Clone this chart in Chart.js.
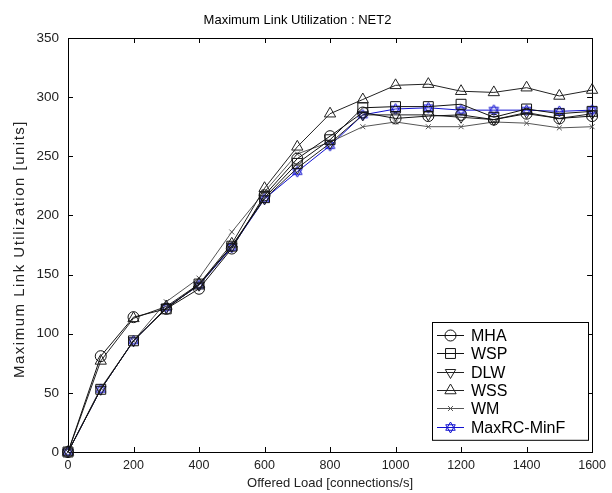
<!DOCTYPE html>
<html>
<head>
<meta charset="utf-8">
<script src="https://cdn.jsdelivr.net/npm/chart.js@4/dist/chart.umd.min.js"></script>
<style>
  html, body { margin: 0; padding: 0; background: #fff; }
  #wrap { width: 612px; height: 493px; }
</style>
</head>
<body>
<div id="wrap"><canvas id="chart-net2"></canvas></div>
<script>
const loads = [0, 100, 200, 300, 400, 500, 600, 700, 800, 900, 1000, 1100, 1200, 1300, 1400, 1500, 1600];
const mha   = [0, 81, 114, 121, 138, 172, 217, 248, 267, 287, 282, 284, 285, 281, 286, 282, 284];
const wsp   = [0, 53, 94, 121, 142, 174, 215, 244, 264, 291, 292, 292, 294, 283, 290, 286, 288];
const dlw   = [0, 53, 94, 122, 141, 174, 214, 240, 261, 285, 285, 285, 283, 281, 287, 282, 286];
const wss   = [0, 77, 113, 123, 142, 176, 223, 258, 286, 298, 310, 311, 305, 304, 308, 301, 306];
const wm    = [0, 54, 94, 127, 147, 186, 220, 252, 262, 275, 279, 275, 275, 279, 278, 274, 275];
const maxrc = [0, 53, 94, 122, 141, 173, 214, 237, 259, 285, 290, 291, 289, 289, 289, 288, 289];

const yTitle = 'Maximum Link Utilization [units]';

const FONT = '"Liberation Sans", Arial, sans-serif';
const BLUE = '#1010d0';

function hexagram(color) {
  const cv = document.createElement('canvas');
  cv.width = 13; cv.height = 13;
  const g = cv.getContext('2d');
  g.strokeStyle = color;
  g.lineWidth = 1;
  const cx = 6.5, cy = 6.5, r = 5.5;
  [-Math.PI / 2, Math.PI / 2].forEach(rot => {
    g.beginPath();
    for (let k = 0; k < 3; k++) {
      const a = rot + k * 2 * Math.PI / 3;
      const px = cx + r * Math.cos(a), py = cy + r * Math.sin(a);
      if (k) g.lineTo(px, py); else g.moveTo(px, py);
    }
    g.closePath();
    g.stroke();
  });
  return cv;
}

function series(label, values, style, color, radius, rotation) {
  return {
    label,
    data: values.map((v, i) => ({ x: loads[i], y: v })),
    borderColor: color,
    backgroundColor: 'rgba(0,0,0,0)',
    pointBorderColor: color,
    pointBackgroundColor: 'rgba(0,0,0,0)',
    pointStyle: style,
    pointRadius: radius,
    pointRotation: rotation || 0,
    pointBorderWidth: 1,
    borderWidth: 1,
    tension: 0,
    clip: false,
  };
}

const datasets = [
  series('MHA', mha, 'circle', '#111', 5.5),
  series('WSP', wsp, 'rect', '#111', 7),
  series('DLW', dlw, 'triangle', '#222', 6, 180),
  series('WSS', wss, 'triangle', '#222', 6.5),
  series('WM', wm, 'crossRot', '#555', 3.5),
  series('MaxRC-MinF', maxrc, hexagram(BLUE), BLUE, 6),
];

// MATLAB-like box with inward ticks, plus the spaced-out y title
const frame = {
  id: 'frame',
  beforeDatasetsDraw(chart) {
    const { ctx, chartArea: a, scales: { x, y } } = chart;
    ctx.save();
    ctx.strokeStyle = '#000';
    ctx.lineWidth = 1;
    ctx.strokeRect(Math.round(a.left) + 0.5, Math.round(a.top) + 0.5, Math.round(a.right - a.left), Math.round(a.bottom - a.top));
    ctx.beginPath();
    x.ticks.forEach(t => {
      const px = Math.round(x.getPixelForValue(t.value)) + 0.5;
      ctx.moveTo(px, a.bottom); ctx.lineTo(px, a.bottom - 5);
      ctx.moveTo(px, a.top); ctx.lineTo(px, a.top + 5);
    });
    y.ticks.forEach(t => {
      const py = Math.round(y.getPixelForValue(t.value)) + 0.5;
      ctx.moveTo(a.left, py); ctx.lineTo(a.left + 5, py);
      ctx.moveTo(a.right, py); ctx.lineTo(a.right - 5, py);
    });
    ctx.stroke();

    ctx.translate(20, (a.top + a.bottom) / 2 + 4);
    ctx.rotate(-Math.PI / 2);
    ctx.font = '15px ' + FONT;
    ctx.letterSpacing = '1.5px';
    ctx.fillStyle = '#222';
    ctx.textAlign = 'center';
    ctx.textBaseline = 'middle';
    ctx.fillText(yTitle, 0, 0);
    ctx.restore();
  }
};

// legend box drawn inside the plot, lower right
const boxLegend = {
  id: 'boxLegend',
  afterDraw(chart) {
    const { ctx } = chart;
    const left = 432, top = 322, w = 156, rowH = 18.3;
    const h = rowH * chart.data.datasets.length + 8;
    ctx.save();
    ctx.fillStyle = '#fff';
    ctx.fillRect(left, top, w, h);
    ctx.strokeStyle = '#000';
    ctx.lineWidth = 1;
    ctx.strokeRect(left + 0.5, top + 0.5, w, h);
    ctx.textBaseline = 'middle';
    chart.data.datasets.forEach((ds, i) => {
      const cy = Math.round(top + 13 + i * rowH) + 0.5;
      ctx.strokeStyle = ds.borderColor;
      ctx.lineWidth = 1;
      ctx.beginPath();
      ctx.moveTo(left + 5, cy); ctx.lineTo(left + 32, cy);
      ctx.stroke();
      ctx.fillStyle = 'rgba(0,0,0,0)';
      Chart.helpers.drawPoint(ctx, {
        pointStyle: ds.pointStyle,
        radius: ds.pointRadius,
        rotation: ds.pointRotation,
        borderWidth: 1,
      }, left + 18.5, cy);
      ctx.fillStyle = '#000';
      ctx.font = '16px ' + FONT;
      ctx.fillText(ds.label, left + 39, cy + 1);
    });
    ctx.restore();
  }
};

new Chart(document.getElementById('chart-net2'), {
  type: 'line',
  data: { datasets },
  plugins: [frame, boxLegend],
  options: {
    responsive: true,
    maintainAspectRatio: false,
    animation: false,
    layout: { padding: { left: 0, right: 17, top: 0, bottom: 0 } },
    plugins: {
      legend: { display: false },
      tooltip: { enabled: false },
      title: {
        display: true,
        text: 'Maximum Link Utilization : NET2',
        color: '#000',
        font: { family: FONT, size: 13, weight: 'normal' },
        padding: { top: 13, bottom: 9.4 },
      },
    },
    scales: {
      x: {
        type: 'linear',
        min: 0, max: 1600,
        afterFit: s => { s.height = 41; },
        grid: { display: false, drawTicks: false },
        border: { display: false },
        ticks: { stepSize: 200, color: '#222', font: { family: FONT, size: 12.5 }, padding: 6, maxRotation: 0, callback: v => String(v) },
        title: { display: true, text: 'Offered Load [connections/s]', color: '#222', font: { family: FONT, size: 13 }, padding: { top: 0, bottom: 2.2 } },
      },
      y: {
        min: 0, max: 350,
        afterFit: s => { s.width = 68; },
        grid: { display: false, drawTicks: false },
        border: { display: false },
        ticks: { stepSize: 50, color: '#222', font: { family: FONT, size: 13.5 }, padding: 9, callback: v => String(v) },
      },
    },
  },
});
</script>
</body>
</html>
